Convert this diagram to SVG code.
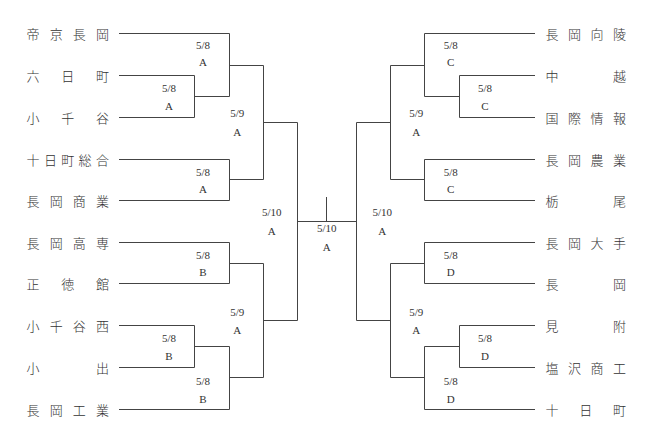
<svg xmlns="http://www.w3.org/2000/svg" width="654" height="443" viewBox="0 0 654 443">
<style>
.ln{fill:none;stroke:#444;stroke-width:1}
.tm{font-family:"Noto Sans CJK JP","Noto Sans CJK SC",sans-serif;font-size:13px;font-weight:300;fill:#333;text-anchor:middle}
.lb{font-family:"Liberation Serif",serif;font-size:11px;fill:#333;text-anchor:middle}
</style>
<rect width="654" height="443" fill="#fff"/>
<g id="connectors" class="ln">
<path d="M119 33.5H229.5V96.5H194.5M119 75.5H194.5V117.5H119M229.5 65.5H263.5M119 159.5H229.5V200.5H119M229.5 179.5H263.5M263.5 65.5V179.5M263.5 122.5H297.5"/>
<path d="M119 242.5H229.5V283.5H119M229.5 263.5H263.5M119 325.5H194.5V367.5H119M194.5 346.5H229.5M119 409.5H229.5V346.5M229.5 377.5H263.5M263.5 263.5V377.5M263.5 320.5H297.5"/>
<path d="M297.5 122.5V320.5M297.5 221.5H356.5M326.5 197V221.5"/>
<path d="M535 33.5H424.5V96.5H459.5M535 75.5H459.5V117.5H535M424.5 65.5H390.5M535 159.5H424.5V200.5H535M424.5 179.5H390.5M390.5 65.5V179.5M390.5 122.5H356.5"/>
<path d="M535 242.5H424.5V283.5H535M424.5 263.5H390.5M535 325.5H459.5V367.5H535M459.5 346.5H424.5M535 409.5H424.5V346.5M424.5 377.5H390.5M390.5 263.5V377.5M390.5 320.5H356.5M356.5 122.5V320.5"/>
</g>
<g id="labels" class="lb">
<text x="203" y="48.8">5/8</text><text x="203" y="65.8">A</text>
<text x="169" y="91.5">5/8</text><text x="169" y="109.5">A</text>
<text x="237.3" y="117.1">5/9</text><text x="237.3" y="135.8">A</text>
<text x="203" y="175.8">5/8</text><text x="203" y="192.5">A</text>
<text x="271.7" y="216.1">5/10</text><text x="271.7" y="234.5">A</text>
<text x="326.7" y="232.1">5/10</text><text x="326.7" y="250.5">A</text>
<text x="382.3" y="216.1">5/10</text><text x="382.3" y="234.5">A</text>
<text x="203" y="258.5">5/8</text><text x="203" y="276.1">B</text>
<text x="237.3" y="315.5">5/9</text><text x="237.3" y="333.5">A</text>
<text x="169" y="341.5">5/8</text><text x="169" y="359.5">B</text>
<text x="203" y="384.8">5/8</text><text x="203" y="402.5">B</text>
<text x="450.7" y="48.8">5/8</text><text x="450.7" y="65.8">C</text>
<text x="485" y="91.5">5/8</text><text x="485" y="109.5">C</text>
<text x="416.3" y="117.1">5/9</text><text x="416.3" y="135.8">A</text>
<text x="450.7" y="175.8">5/8</text><text x="450.7" y="192.5">C</text>
<text x="450.7" y="258.5">5/8</text><text x="450.7" y="276.1">D</text>
<text x="416.3" y="315.5">5/9</text><text x="416.3" y="333.5">A</text>
<text x="485" y="341.5">5/8</text><text x="485" y="359.5">D</text>
<text x="450.7" y="384.8">5/8</text><text x="450.7" y="402.5">D</text>
</g>
<g id="team-L1" class="tm"><text x="33 56.2 79.3 102.5" y="38.5">帝京長岡</text></g>
<g id="team-L2" class="tm"><text x="33 67.75 102.5" y="80.5">六日町</text></g>
<g id="team-L3" class="tm"><text x="33 67.75 102.5" y="122.5">小千谷</text></g>
<g id="team-L4" class="tm"><text x="33 50.4 67.75 85.1 102.5" y="164.5">十日町総合</text></g>
<g id="team-L5" class="tm"><text x="33 56.2 79.3 102.5" y="205.5">長岡商業</text></g>
<g id="team-L6" class="tm"><text x="33 56.2 79.3 102.5" y="247.5">長岡高専</text></g>
<g id="team-L7" class="tm"><text x="33 67.75 102.5" y="288.5">正徳館</text></g>
<g id="team-L8" class="tm"><text x="33 56.2 79.3 102.5" y="330.5">小千谷西</text></g>
<g id="team-L9" class="tm"><text x="33 102.5" y="372.5">小出</text></g>
<g id="team-L10" class="tm"><text x="33 56.2 79.3 102.5" y="414.5">長岡工業</text></g>
<g id="team-R1" class="tm"><text x="552 574.5 597 619.5" y="38.5">長岡向陵</text></g>
<g id="team-R2" class="tm"><text x="552 619.5" y="80.5">中越</text></g>
<g id="team-R3" class="tm"><text x="552 574.5 597 619.5" y="122.5">国際情報</text></g>
<g id="team-R4" class="tm"><text x="552 574.5 597 619.5" y="164.5">長岡農業</text></g>
<g id="team-R5" class="tm"><text x="552 619.5" y="205.5">栃尾</text></g>
<g id="team-R6" class="tm"><text x="552 574.5 597 619.5" y="247.5">長岡大手</text></g>
<g id="team-R7" class="tm"><text x="552 619.5" y="288.5">長岡</text></g>
<g id="team-R8" class="tm"><text x="552 619.5" y="330.5">見附</text></g>
<g id="team-R9" class="tm"><text x="552 574.5 597 619.5" y="372.5">塩沢商工</text></g>
<g id="team-R10" class="tm"><text x="552 585.75 619.5" y="414.5">十日町</text></g>
</svg>
